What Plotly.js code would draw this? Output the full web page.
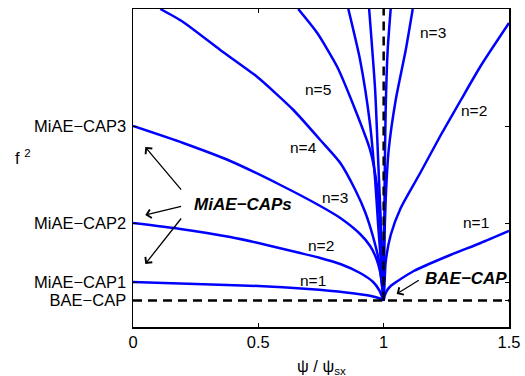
<!DOCTYPE html>
<html><head><meta charset="utf-8">
<script src="https://cdn.plot.ly/plotly-3.0.1.min.js"></script>
<style>html,body{margin:0;padding:0;background:#fff}#c{width:525px;height:376px}</style>
</head><body><div id="c"></div>
<script>
// psi/psi_sx values and f^2 values (arbitrary units) for each branch
const BAE = 2.65;
const yTickVals = [2.65, 4.5, 10.4, 20.1];
const yTickText = ['BAE\u2212CAP', 'MiAE\u2212CAP1', 'MiAE\u2212CAP2', 'MiAE\u2212CAP3'];
const xTickVals = [0, 0.5, 1, 1.5];
const xTickText = ['0', '0.5', '1', '1.5'];

const L1x = [0, 0.25, 0.5, 0.7, 0.85, 0.95, 0.985, 1];
const L1y = [4.5, 4.3, 4.1, 3.8, 3.45, 3.1, 2.85, 2.65];
const L2x = [0, 0.189, 0.388, 0.5, 0.667, 0.747, 0.827, 0.906, 0.958, 0.982, 1];
const L2y = [10.4, 9.8, 9.0, 8.4, 7.4, 6.9, 6.3, 5.4, 4.5, 3.7, 2.65];
const L3x = [0, 0.2, 0.388, 0.588, 0.747, 0.827, 0.906, 0.946, 0.97, 0.986, 1];
const L3y = [20.1, 18.4, 16.6, 14.2, 12.1, 10.9, 9.3, 8.1, 6.9, 5.5, 2.65];
const L4x = [0.109, 0.2, 0.348, 0.496, 0.64, 0.747, 0.827, 0.887, 0.926, 0.958, 0.982, 1];
const L4y = [31.8, 30.5, 27.7, 25.0, 21.7, 18.7, 16.4, 13.7, 11.5, 9.0, 6.5, 2.65];
const L5x = [0.659, 0.735, 0.815, 0.887, 0.946, 0.974, 0.986, 0.994, 1];
const L5y = [31.8, 29.4, 26.0, 21.7, 17.7, 14.0, 10.2, 6.7, 2.65];
const L6x = [0.859, 0.906, 0.946, 0.966, 0.978, 0.99, 1];
const L6y = [31.8, 26.7, 20.2, 14.7, 10.2, 6.2, 2.65];
const L7x = [0.942, 0.966, 0.978, 0.99, 1];
const L7y = [31.8, 23.7, 16.7, 9.7, 2.65];

const R1x = [1, 1.004, 1.012, 1.028, 1.056, 1.12, 1.256, 1.387, 1.5];
const R1y = [2.65, 3.1, 3.6, 4.1, 4.6, 5.6, 7.1, 8.4, 9.6];
const R2x = [1, 1.004, 1.008, 1.028, 1.068, 1.148, 1.228, 1.308, 1.387, 1.5];
const R2y = [2.65, 4.7, 6.5, 9.2, 11.9, 15.5, 19.2, 22.7, 26.1, 30.4];
const R3x = [1, 1.002, 1.008, 1.02, 1.048, 1.088, 1.116];
const R3y = [2.65, 7.7, 12.7, 17.7, 22.7, 27.7, 31.8];
const R4x = [1, 1.004, 1.008, 1.016, 1.028];
const R4y = [2.65, 14.7, 21.7, 27.7, 31.8];

const xRange = [0, 1.5];
const yRange = [0, 31.8];

const blue = 'rgb(0,0,255)';
const FONT = 'Liberation Sans, Arial, Helvetica, sans-serif';
function branch(x, y) {
  return {x: x, y: y, type: 'scatter', mode: 'lines', hoverinfo: 'skip',
    line: {color: blue, width: 2.5, shape: 'spline', smoothing: 0.6}};
}
const traces = [
  branch(L1x, L1y), branch(L2x, L2y), branch(L3x, L3y), branch(L4x, L4y),
  branch(L5x, L5y), branch(L6x, L6y), branch(L7x, L7y),
  branch(R1x, R1y), branch(R2x, R2y), branch(R3x, R3y), branch(R4x, R4y),
  {x: [xRange[0], xRange[1]], y: [BAE, BAE], type: 'scatter', mode: 'lines',
   line: {color: 'black', width: 2.5, dash: '9px,6px'}},
  {x: [1, 1], y: [BAE, yRange[1]], type: 'scatter', mode: 'lines',
   line: {color: 'black', width: 2.5, dash: '9px,6px'}}
];

function lab(t, x, y) {
  return {text: t, x: x, y: y, xref: 'x', yref: 'y', showarrow: false,
    font: {family: FONT, size: 15.5, color: 'black'}};
}
function arr(hx, hy, tx, ty) {
  return {text: ' ', x: hx, y: hy, ax: tx, ay: ty, xref: 'x', yref: 'y', axref: 'x', ayref: 'y',
    showarrow: true, arrowhead: 4, arrowsize: 1.3, arrowwidth: 1.3, arrowcolor: 'black',
    font: {size: 2}};
}
const annotations = [
  lab('n=1', 0.72, 4.7), lab('n=2', 0.748, 8.2), lab('n=3', 0.807, 13.0),
  lab('n=4', 0.68, 18.0), lab('n=5', 0.74, 23.8),
  lab('n=3', 1.195, 29.5), lab('n=2', 1.359, 21.7), lab('n=1', 1.367, 10.5),
  {text: '<b><i>MiAE\u2212CAPs</i></b>', x: 0.44, y: 12.3, xref: 'x', yref: 'y', showarrow: false,
   font: {family: FONT, size: 17, color: 'black'}},
  {text: '<b><i>BAE\u2212CAP</i></b>', x: 1.33, y: 4.9, xref: 'x', yref: 'y', showarrow: false,
   font: {family: FONT, size: 17, color: 'black'}},
  arr(0.049, 18.0, 0.2, 13.5), arr(0.049, 11.2, 0.2, 12.1), arr(0.049, 6.3, 0.2, 11.1),
  arr(1.052, 3.3, 1.148, 4.8),
  {text: 'f <sup>2</sup>', xref: 'paper', yref: 'paper', x: -0.32, y: 0.535, showarrow: false,
   font: {family: FONT, size: 16.5, color: 'black'}},
  {text: '\u03c8 / \u03c8<sub>sx</sub>', xref: 'paper', yref: 'paper', x: 0.5, y: -0.125,
   xanchor: 'center', yanchor: 'middle', showarrow: false,
   font: {family: FONT, size: 16.5, color: 'black'}}
];

const layout = {
  width: 525, height: 376,
  margin: {l: 133, r: 16, t: 9, b: 49},
  paper_bgcolor: 'white', plot_bgcolor: 'white',
  showlegend: false,
  font: {family: FONT, size: 16.5, color: 'black'},
  xaxis: {range: xRange, tickvals: xTickVals, ticktext: xTickText, ticks: 'inside', ticklen: 4,
    tickwidth: 1, tickcolor: 'black', showline: true, mirror: 'ticks', linecolor: 'black', linewidth: 1.5,
    showgrid: false, zeroline: false},
  yaxis: {range: yRange, tickvals: yTickVals, ticktext: yTickText, ticks: 'inside', ticklen: 4,
    tickwidth: 1, tickcolor: 'black', showline: true, mirror: 'ticks', linecolor: 'black', linewidth: 1.5,
    showgrid: false, zeroline: false, ticklabelstandoff: 2},
  annotations: annotations
};
Plotly.newPlot('c', traces, layout, {staticPlot: true, displayModeBar: false});
</script></body></html>
